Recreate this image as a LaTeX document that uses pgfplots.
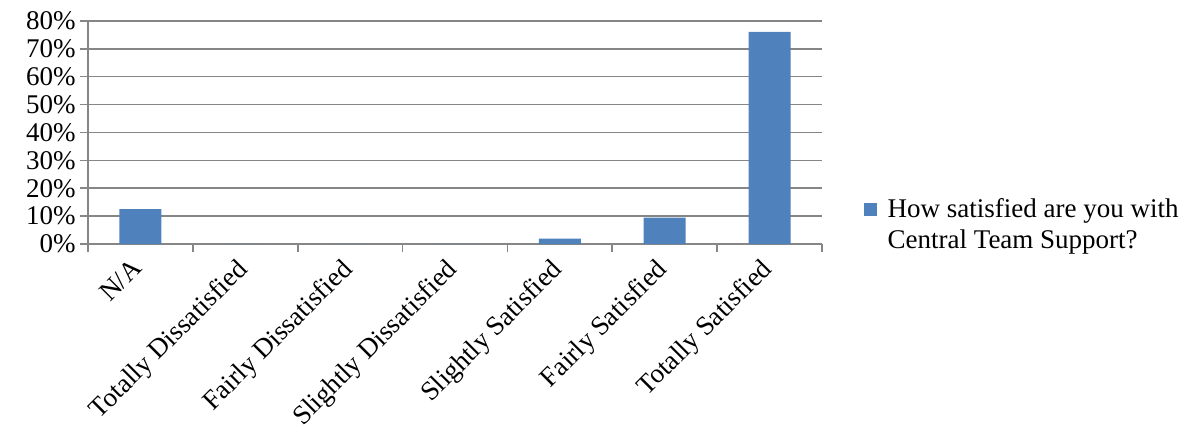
\documentclass[border=0pt]{standalone}
\usepackage{fontspec}
\setmainfont{Liberation Serif}
\usepackage{pgfplots}
\pgfplotsset{compat=1.18}
\definecolor{barblue}{HTML}{4F81BD}
\definecolor{gridgray}{HTML}{868686}
\begin{document}
\begin{tikzpicture}
\path[use as bounding box] (-44pt,-96pt) rectangle (556pt,122pt);
\begin{axis}[
  at={(0,0)}, anchor=south west,
  scale only axis,
  width=367pt, height=111.6pt,
  xmin=-0.5, xmax=6.5,
  ymin=0, ymax=80,
  ybar, bar width=21pt, bar shift=0pt,
  xtick={0,1,2,3,4,5,6},
  xticklabels={N/A,Totally Dissatisfied,Fairly Dissatisfied,Slightly Dissatisfied,Slightly Satisfied,Fairly Satisfied,Totally Satisfied},
  x tick label style={xshift=-5pt, yshift=-1pt, rotate=45, anchor=north east, font=\fontsize{13.5}{14}\selectfont, inner sep=1pt},
  major x tick style={draw=none},
  minor xtick={-0.5,0.5,...,6.5},
  minor x tick style={draw=gridgray, line width=0.8pt},
  ytick={0,10,...,80},
  yticklabel={\pgfmathprintnumber{\tick}\%},
  y tick label style={font=\fontsize{13.5}{14}\selectfont, inner sep=1pt, xshift=-1pt},
  /pgf/number format/assume math mode=true,
  tick align=outside,
  major tick length=4pt, minor tick length=4pt,
  ymajorgrids,
  grid style={draw=gridgray, line width=0.8pt},
  y tick style={draw=gridgray, line width=0.8pt},
  axis x line*=bottom, axis y line*=left,
  axis line style={draw=gridgray, line width=0.8pt, -},
  legend style={at={(1.048,0.085)}, anchor=west, draw=none, fill=none,
    font=\fontsize{13.5}{15.5}\selectfont,
    nodes={align=left, inner sep=1pt}},
  legend image code/.code={\fill[barblue] (0pt,4.5pt) rectangle (6.5pt,11pt); \path (0pt,0pt) (11pt,0pt);},
  legend cell align=left,
]
\addplot[fill=barblue, draw=none] coordinates {(0,12.5) (1,0) (2,0) (3,0) (4,1.9) (5,9.5) (6,76)};
\addlegendentry{How satisfied are you with\\Central Team Support?}
\end{axis}
\end{tikzpicture}
\end{document}
